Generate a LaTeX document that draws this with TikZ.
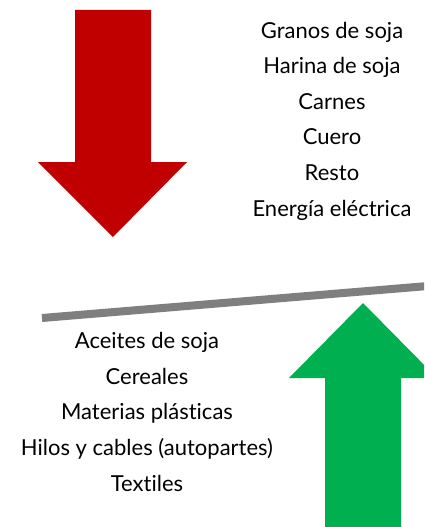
\documentclass[tikz,border=0pt]{standalone}
\usepackage{fontspec}
\setmainfont{Lato}[Ligatures=NoCommon]
\usepackage{tikz}
\usetikzlibrary{calc}
\usepackage{xcolor}
\definecolor{downcol}{HTML}{C00000}
\definecolor{upcol}{HTML}{00B050}
\definecolor{barcol}{HTML}{7F7F7F}
\tikzstyle{item}=[font=\fontsize{22}{22}\selectfont,anchor=center,inner sep=0,
  text height=0.72em,text depth=0pt]
\tikzstyle{downarrow}=[fill=downcol]
\tikzstyle{uparrow}=[fill=upcol]
\tikzstyle{bar}=[draw=barcol,line width=8]
\def\dy{35.6}

\begin{document}
\begin{tikzpicture}[x=1pt,y=-1pt]
  
  \clip (0,0) rectangle (424,527);
  \fill[white] (0,0) rectangle (424,527);
  
  % ARROWS
  \fill[downarrow] (75,10) -- (151,10) -- (151,162) -- (187,162)
    -- (113,237) -- (38,162) -- (75,162) -- cycle;
  \fill[uparrow] (325,540) -- (401,540) -- (401,378) -- (437,378)
    -- (363,303) -- (289,378) -- (325,378) -- cycle;
  
  % BAR
  \coordinate (barL) at (42,318);
  \coordinate (barR) at (440,285);
  \draw[bar] (barL) -- (barR);
  
  % EXPORTS
  \node[item] (granos)  at (332,34.5) {Granos de soja};
  \node[item] (harina)  at ($(granos)+(0,\dy)$) {Harina de soja};
  \node[item] (carnes)  at ($(harina)+(0,\dy)$) {Carnes};
  \node[item] (cuero)   at ($(carnes)+(0,\dy)$) {Cuero};
  \node[item] (resto)   at ($(cuero)+(0,\dy)$) {Resto};
  \node[item] (energia) at ($(resto)+(0,\dy)$) {Energía eléctrica};
  
  % IMPORTS
  \node[item] (aceites)  at (147,345) {Aceites de soja};
  \node[item] (cereales) at ($(aceites)+(0,\dy)$) {Cereales};
  \node[item] (materias) at ($(cereales)+(0,\dy)$) {Materias plásticas};
  \node[item] (hilos)    at ($(materias)+(0,\dy)$) {Hilos y cables (autopartes)};
  \node[item] (textiles) at ($(hilos)+(0,\dy)$) {Textiles};
  
\end{tikzpicture}
\end{document}
